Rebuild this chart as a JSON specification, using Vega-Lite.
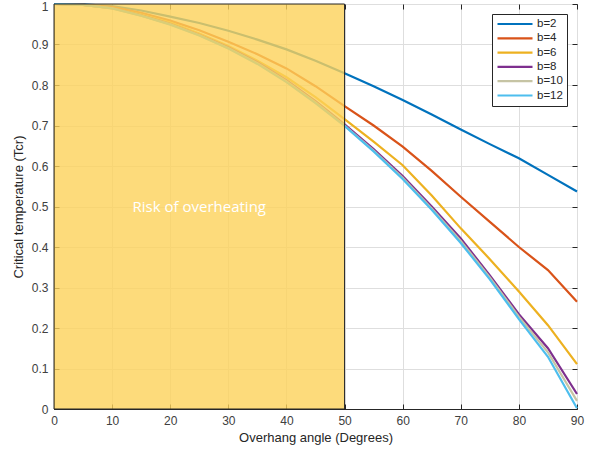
{
  "$schema": "https://vega.github.io/schema/vega-lite/v6.json",
  "width": 523,
  "height": 405,
  "autosize": {"type": "none"},
  "padding": {"left": 54, "top": 4, "right": 17, "bottom": 45},
  "background": "white",
  "config": {
    "font": "Liberation Sans",
    "view": {"stroke": "#262626", "strokeWidth": 1},
    "axis": {
      "labelFont": "Liberation Sans",
      "titleFont": "Liberation Sans",
      "labelFontSize": 12,
      "titleFontSize": 13,
      "labelColor": "#404040",
      "titleColor": "#262626",
      "titleFontWeight": "normal",
      "domainColor": "#262626",
      "tickColor": "#262626",
      "tickSize": -5,
      "gridColor": "#dedede",
      "gridOpacity": 1
    },
    "legend": {
      "labelFont": "Liberation Sans",
      "labelFontSize": 11.5,
      "labelColor": "#262626"
    }
  },
  "resolve": {"axis": {"x": "independent", "y": "independent"}},
  "datasets": {
    "curves": [
      {"a":0,"T":1,"b":"b=2"},{"a":5,"T":0.999,"b":"b=2"},{"a":10,"T":0.995,"b":"b=2"},{"a":15,"T":0.984,"b":"b=2"},{"a":20,"T":0.969,"b":"b=2"},{"a":25,"T":0.953,"b":"b=2"},{"a":30,"T":0.934,"b":"b=2"},{"a":35,"T":0.912,"b":"b=2"},{"a":40,"T":0.888,"b":"b=2"},{"a":45,"T":0.86,"b":"b=2"},{"a":50,"T":0.829,"b":"b=2"},{"a":55,"T":0.797,"b":"b=2"},{"a":60,"T":0.763,"b":"b=2"},{"a":65,"T":0.727,"b":"b=2"},{"a":70,"T":0.69,"b":"b=2"},{"a":75,"T":0.654,"b":"b=2"},{"a":80,"T":0.619,"b":"b=2"},{"a":85,"T":0.578,"b":"b=2"},{"a":90,"T":0.537,"b":"b=2"},
      {"a":0,"T":1,"b":"b=4"},{"a":5,"T":0.998,"b":"b=4"},{"a":10,"T":0.993,"b":"b=4"},{"a":15,"T":0.978,"b":"b=4"},{"a":20,"T":0.959,"b":"b=4"},{"a":25,"T":0.935,"b":"b=4"},{"a":30,"T":0.907,"b":"b=4"},{"a":35,"T":0.876,"b":"b=4"},{"a":40,"T":0.841,"b":"b=4"},{"a":45,"T":0.797,"b":"b=4"},{"a":50,"T":0.748,"b":"b=4"},{"a":55,"T":0.7,"b":"b=4"},{"a":60,"T":0.648,"b":"b=4"},{"a":65,"T":0.588,"b":"b=4"},{"a":70,"T":0.524,"b":"b=4"},{"a":75,"T":0.462,"b":"b=4"},{"a":80,"T":0.4,"b":"b=4"},{"a":85,"T":0.343,"b":"b=4"},{"a":90,"T":0.265,"b":"b=4"},
      {"a":0,"T":1,"b":"b=6"},{"a":5,"T":0.998,"b":"b=6"},{"a":10,"T":0.99,"b":"b=6"},{"a":15,"T":0.974,"b":"b=6"},{"a":20,"T":0.954,"b":"b=6"},{"a":25,"T":0.927,"b":"b=6"},{"a":30,"T":0.896,"b":"b=6"},{"a":35,"T":0.86,"b":"b=6"},{"a":40,"T":0.819,"b":"b=6"},{"a":45,"T":0.77,"b":"b=6"},{"a":50,"T":0.716,"b":"b=6"},{"a":55,"T":0.66,"b":"b=6"},{"a":60,"T":0.602,"b":"b=6"},{"a":65,"T":0.527,"b":"b=6"},{"a":70,"T":0.446,"b":"b=6"},{"a":75,"T":0.37,"b":"b=6"},{"a":80,"T":0.29,"b":"b=6"},{"a":85,"T":0.207,"b":"b=6"},{"a":90,"T":0.111,"b":"b=6"},
      {"a":0,"T":1,"b":"b=8"},{"a":5,"T":0.998,"b":"b=8"},{"a":10,"T":0.99,"b":"b=8"},{"a":15,"T":0.972,"b":"b=8"},{"a":20,"T":0.951,"b":"b=8"},{"a":25,"T":0.924,"b":"b=8"},{"a":30,"T":0.893,"b":"b=8"},{"a":35,"T":0.856,"b":"b=8"},{"a":40,"T":0.812,"b":"b=8"},{"a":45,"T":0.76,"b":"b=8"},{"a":50,"T":0.703,"b":"b=8"},{"a":55,"T":0.642,"b":"b=8"},{"a":60,"T":0.575,"b":"b=8"},{"a":65,"T":0.5,"b":"b=8"},{"a":70,"T":0.421,"b":"b=8"},{"a":75,"T":0.33,"b":"b=8"},{"a":80,"T":0.234,"b":"b=8"},{"a":85,"T":0.15,"b":"b=8"},{"a":90,"T":0.037,"b":"b=8"},
      {"a":0,"T":1,"b":"b=10"},{"a":5,"T":0.998,"b":"b=10"},{"a":10,"T":0.989,"b":"b=10"},{"a":15,"T":0.971,"b":"b=10"},{"a":20,"T":0.95,"b":"b=10"},{"a":25,"T":0.923,"b":"b=10"},{"a":30,"T":0.891,"b":"b=10"},{"a":35,"T":0.854,"b":"b=10"},{"a":40,"T":0.809,"b":"b=10"},{"a":45,"T":0.757,"b":"b=10"},{"a":50,"T":0.7,"b":"b=10"},{"a":55,"T":0.638,"b":"b=10"},{"a":60,"T":0.571,"b":"b=10"},{"a":65,"T":0.495,"b":"b=10"},{"a":70,"T":0.415,"b":"b=10"},{"a":75,"T":0.325,"b":"b=10"},{"a":80,"T":0.228,"b":"b=10"},{"a":85,"T":0.14,"b":"b=10"},{"a":90,"T":0.02,"b":"b=10"},
      {"a":0,"T":1,"b":"b=12"},{"a":5,"T":0.998,"b":"b=12"},{"a":10,"T":0.989,"b":"b=12"},{"a":15,"T":0.971,"b":"b=12"},{"a":20,"T":0.949,"b":"b=12"},{"a":25,"T":0.922,"b":"b=12"},{"a":30,"T":0.89,"b":"b=12"},{"a":35,"T":0.852,"b":"b=12"},{"a":40,"T":0.807,"b":"b=12"},{"a":45,"T":0.755,"b":"b=12"},{"a":50,"T":0.699,"b":"b=12"},{"a":55,"T":0.636,"b":"b=12"},{"a":60,"T":0.568,"b":"b=12"},{"a":65,"T":0.492,"b":"b=12"},{"a":70,"T":0.41,"b":"b=12"},{"a":75,"T":0.32,"b":"b=12"},{"a":80,"T":0.222,"b":"b=12"},{"a":85,"T":0.129,"b":"b=12"},{"a":90,"T":0.002,"b":"b=12"}
    ],
    "zone": [{"x0": 0, "x1": 50, "y0": 0, "y1": 1}],
    "note": [{"x": 25, "y": 0.5, "label": "Risk of overheating"}]
  },
  "layer": [
    {
      "data": {"name": "curves"},
      "mark": {"type": "line", "strokeCap": "butt"},
      "encoding": {
        "x": {"field": "a", "type": "quantitative", "scale": {"domain": [0, 90], "nice": false},
              "axis": {"title": "Overhang angle (Degrees)", "values": [0,10,20,30,40,50,60,70,80,90], "labelFlush": false, "labelPadding": 11, "titlePadding": 5}},
        "y": {"field": "T", "type": "quantitative", "scale": {"domain": [0, 1], "nice": false},
              "axis": {"title": "Critical temperature (Tcr)", "values": [0,0.1,0.2,0.3,0.4,0.5,0.6,0.7,0.8,0.9,1], "format": ".1~f", "labelFlush": false, "labelPadding": 11, "titlePadding": 6,
                       "labelOffset": {"condition": {"test": "datum.value == 1", "value": 2}, "value": 0}}},
        "color": {"field": "b", "type": "nominal",
          "scale": {"domain": ["b=2","b=4","b=6","b=8","b=10","b=12"],
                    "range": ["#0072BD","#D95319","#EDB120","#7E2F8E","#C6C4A4","#4DBEEE"]},
          "legend": {"title": null, "orient": "top-right", "offset": 10, "symbolType": "stroke", "symbolSize": 1225,
                     "clipHeight": 12, "rowPadding": 2.3, "padding": 4, "strokeColor": "#262626", "fillColor": "white",
                     "labelOffset": 3}},
        "strokeWidth": {"field": "b", "type": "nominal",
          "scale": {"domain": ["b=2","b=4","b=6","b=8","b=10","b=12"], "range": [2.2,2.2,2.2,2.2,1.2,2.2]},
          "legend": {"title": null, "orient": "top-right", "offset": 10, "symbolType": "stroke", "symbolSize": 1225,
                     "clipHeight": 12, "rowPadding": 2.3, "padding": 4, "strokeColor": "#262626", "fillColor": "white",
                     "labelOffset": 3}}
      }
    },
    {
      "data": {"name": "zone"},
      "mark": {"type": "rect", "fill": "#FDD25A", "fillOpacity": 0.8, "stroke": "#262626", "strokeWidth": 1, "strokeOpacity": 1},
      "encoding": {
        "x": {"field": "x0", "type": "quantitative",
              "axis": {"orient": "top", "title": null, "labels": false, "grid": false, "domain": false, "values": [0,10,20,30,40,50,60,70,80,90]}},
        "x2": {"field": "x1"},
        "y": {"field": "y0", "type": "quantitative",
              "axis": {"orient": "right", "title": null, "labels": false, "grid": false, "domain": false, "values": [0,0.1,0.2,0.3,0.4,0.5,0.6,0.7,0.8,0.9,1]}},
        "y2": {"field": "y1"}
      }
    },
    {
      "data": {"name": "note"},
      "mark": {"type": "text", "color": "white", "font": "Open Sans", "fontSize": 15, "align": "center", "baseline": "middle"},
      "encoding": {
        "x": {"field": "x", "type": "quantitative", "axis": null},
        "y": {"field": "y", "type": "quantitative", "axis": null},
        "text": {"field": "label"}
      }
    }
  ]
}
